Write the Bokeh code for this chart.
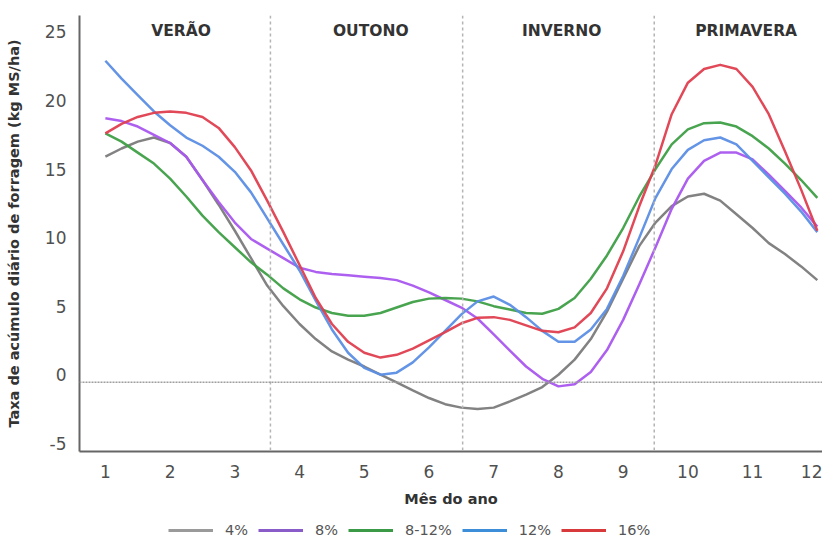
from bokeh.plotting import figure
from bokeh.layouts import column
from bokeh.models import Span, Legend, LegendItem, Range1d, FixedTicker
from bokeh.core.properties import value
from bokeh.embed import file_html
from bokeh.resources import INLINE

# ---- data (quarter-month resolution) ----
months = [1 + 0.25 * i for i in range(45)]
s_4 = [15.9, 16.5, 17.0, 17.3, 16.9, 15.9, 14.2, 12.4, 10.5, 8.5, 6.5, 5.0, 3.7, 2.6, 1.7, 1.1,
       0.6, 0.0, -0.55, -1.15, -1.7, -2.15, -2.4, -2.5, -2.4, -1.95, -1.45, -0.9, 0.0, 1.1,
       2.6, 4.6, 7.0, 9.4, 11.1, 12.3, 13.0, 13.2, 12.7, 11.7, 10.7, 9.6, 8.8, 7.9, 6.9]
s_8 = [18.7, 18.5, 18.1, 17.5, 16.9, 15.9, 14.2, 12.6, 11.1, 9.9, 9.2, 8.5, 7.8, 7.5, 7.35, 7.25,
       7.15, 7.05, 6.9, 6.5, 6.0, 5.45, 4.9, 4.1, 2.95, 1.75, 0.6, -0.3, -0.85, -0.7,
       0.2, 1.8, 4.0, 6.6, 9.3, 12.1, 14.3, 15.6, 16.2, 16.2, 15.7, 14.6, 13.4, 12.2, 10.8]
s_8_12 = [17.6, 17.0, 16.2, 15.4, 14.3, 13.0, 11.6, 10.4, 9.3, 8.2, 7.3, 6.3, 5.5, 4.9, 4.5, 4.3,
          4.3, 4.5, 4.9, 5.3, 5.55, 5.6, 5.55, 5.35, 5.0, 4.75, 4.5, 4.45, 4.8, 5.6,
          7.0, 8.7, 10.7, 13.0, 15.0, 16.8, 17.9, 18.35, 18.4, 18.1, 17.4, 16.5, 15.4, 14.2, 12.9]
s_12 = [22.9, 21.6, 20.4, 19.2, 18.2, 17.3, 16.7, 15.9, 14.8, 13.3, 11.4, 9.5, 7.6, 5.4, 3.3, 1.6,
        0.5, 0.0, 0.15, 0.9, 2.0, 3.2, 4.4, 5.35, 5.7, 5.1, 4.2, 3.2, 2.4, 2.4,
        3.3, 4.8, 7.2, 10.0, 12.9, 15.0, 16.4, 17.1, 17.3, 16.8, 15.6, 14.4, 13.2, 11.9, 10.4]
s_16 = [17.6, 18.3, 18.8, 19.1, 19.2, 19.1, 18.8, 18.0, 16.6, 14.9, 12.7, 10.4, 8.0, 5.6, 3.7, 2.4,
        1.6, 1.25, 1.45, 1.9, 2.5, 3.1, 3.75, 4.15, 4.2, 4.0, 3.6, 3.2, 3.1, 3.45,
        4.5, 6.3, 9.0, 12.3, 15.3, 19.0, 21.3, 22.3, 22.6, 22.3, 21.0, 19.0, 16.3, 13.5, 10.5]

series_names = ["4%", "8%", "8-12%", "12%", "16%"]
series_values = [s_4, s_8, s_8_12, s_12, s_16]
series_colors = ["#7b7b7b", "#a957ee", "#3f9f47", "#5b8ee4", "#df3f4f"]
legend_colors = ["#9a9a9a", "#8a5cc9", "#3a9a45", "#3d8ed8", "#d83a3c"]

seasons = ["VERÃO", "OUTONO", "INVERNO", "PRIMAVERA"]
season_x = [2.17, 5.1, 8.05, 10.9]
season_y = 25.1
season_dividers = [3.55, 6.52, 9.48]
ref_level = -0.55

x_ticks = [1, 2, 3, 4, 5, 6, 7, 8, 9, 10, 11, 12]
y_ticks = [-5, 0, 5, 10, 15, 20, 25]
y_tick_labels = ["-5", "0", "5", "10", "15", "20", "25"]

FONT = "DejaVu Sans"

p = figure(width=822, height=510,
           x_range=Range1d(0.6, 12.08), y_range=Range1d(-5.6, 26.2),
           output_backend="svg", toolbar_location=None,
           min_border_left=79, min_border_right=0, min_border_top=15, min_border_bottom=59)
p.outline_line_color = None
p.xgrid.visible = False
p.ygrid.visible = False

for d in season_dividers:
    p.add_layout(Span(location=d, dimension="height", line_color="#b4b4b4",
                      line_dash="3 3", line_width=1.5))
p.add_layout(Span(location=ref_level, dimension="width", line_color="#9e9e9e",
                  line_dash="2 1", line_width=1.5))

for ys, c in zip(series_values, series_colors):
    p.line(months, ys, line_color=c, line_width=2.5, line_alpha=0.95, line_join="round")

p.text(x=season_x, y=[season_y] * len(seasons), text=seasons,
       text_align="center", text_baseline="middle",
       text_font=value(FONT), text_font_style="bold", text_font_size="15.5px",
       text_color="#333333")

for ax in (p.xaxis[0], p.yaxis[0]):
    ax.axis_line_color = "#666666"
    ax.axis_line_width = 2
    ax.major_tick_line_color = None
    ax.minor_tick_line_color = None
    ax.major_label_text_font = FONT
    ax.major_label_text_font_size = "17px"
    ax.major_label_text_color = "#505050"
    ax.axis_label_text_font = FONT
    ax.axis_label_text_font_style = "bold"
    ax.axis_label_text_font_size = "14.5px"
    ax.axis_label_text_color = "#333333"

p.xaxis.ticker = FixedTicker(ticks=x_ticks)
p.yaxis.ticker = FixedTicker(ticks=y_ticks)
p.yaxis.major_label_overrides = {t: l for t, l in zip(y_ticks, y_tick_labels)}
p.xaxis.axis_label = "Mês do ano"
p.yaxis.axis_label = "Taxa de acúmulo diário de forragem (kg MS/ha)"
p.xaxis.major_label_standoff = 7
p.yaxis.major_label_standoff = 7
p.xaxis.axis_label_standoff = 10
p.yaxis.axis_label_standoff = 20

# ---- legend strip below the chart ----
lg = figure(width=822, height=30, x_range=Range1d(100, 101), y_range=Range1d(100, 101),
            x_axis_location=None, y_axis_location=None,
            output_backend="svg", toolbar_location=None,
            min_border_left=0, min_border_right=0, min_border_top=0, min_border_bottom=0)
lg.grid.visible = False
lg.outline_line_color = None
items = []
for name, ys, c in zip(series_names, series_values, legend_colors):
    r = lg.line(months, ys, line_color=c, line_width=3)
    items.append(LegendItem(label=name, renderers=[r]))
legend = Legend(items=items, orientation="horizontal", location=(89, 2),
                glyph_width=45, glyph_height=14, label_standoff=12, spacing=10,
                label_text_font=FONT, label_text_font_size="14.5px",
                label_text_color="#555555", border_line_color=None,
                background_fill_alpha=0, padding=2, margin=0)
lg.add_layout(legend)

layout = column(p, lg, spacing=0)
open("out.html", "w").write(file_html(layout, INLINE))
